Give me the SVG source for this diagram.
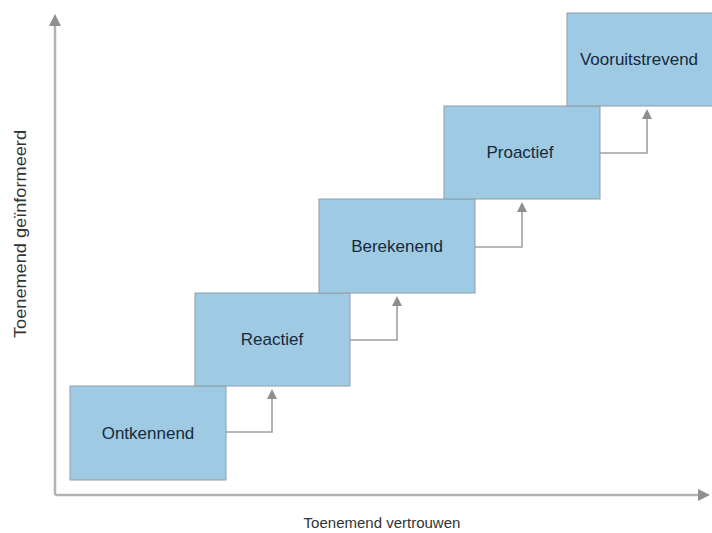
<svg xmlns="http://www.w3.org/2000/svg" width="712" height="533" viewBox="0 0 712 533">
<style>
.box{fill:#9ecae3;stroke:#8e9ea8;stroke-width:1}
.lbl{font-family:"Liberation Sans",Arial,sans-serif;font-size:17px;fill:#17293b;text-anchor:middle}
.axl{font-family:"Liberation Sans",Arial,sans-serif;font-size:15px;fill:#333;text-anchor:middle}
.axis{stroke:#b3b3b3;stroke-width:2.5;fill:none}
.conn{stroke:#a0a0a0;stroke-width:1.6;fill:none}
</style>
<defs>
<marker id="ah" markerWidth="10" markerHeight="10" refX="5" refY="5" orient="auto" markerUnits="userSpaceOnUse" viewBox="0 0 10 10">
<path d="M0,0 L10,5 L0,10 z" fill="#8f8f8f"/>
</marker>
<marker id="axh" markerWidth="12" markerHeight="12" refX="6" refY="6" orient="auto" markerUnits="userSpaceOnUse" viewBox="0 0 12 12">
<path d="M0,0 L12,6 L0,12 z" fill="#8f8f8f"/>
</marker>
</defs>
<g id="axes">
<line class="axis" x1="55" y1="495" x2="55" y2="20" marker-end="url(#axh)"/>
<line class="axis" x1="55" y1="495" x2="704" y2="495" marker-end="url(#axh)"/>
<text class="axl" x="382" y="528">Toenemend vertrouwen</text>
<text class="axl" style="font-size:16px" transform="translate(26,234) rotate(-90)" x="0" y="0" textLength="208" lengthAdjust="spacingAndGlyphs">Toenemend geïnformeerd</text>
</g>
<g id="connectors">
<polyline class="conn" points="226,432 272,432 272,394" marker-end="url(#ah)"/>
<polyline class="conn" points="350,340 397,340 397,301" marker-end="url(#ah)"/>
<polyline class="conn" points="475,247 522,247 522,207" marker-end="url(#ah)"/>
<polyline class="conn" points="600,153 647,153 647,114" marker-end="url(#ah)"/>
</g>
<g id="n1"><rect class="box" x="70" y="386" width="156" height="94"/><text class="lbl" x="148" y="439">Ontkennend</text></g>
<g id="n2"><rect class="box" x="195" y="293" width="155" height="93"/><text class="lbl" x="272" y="345">Reactief</text></g>
<g id="n3"><rect class="box" x="319" y="199" width="156" height="94"/><text class="lbl" x="397" y="252">Berekenend</text></g>
<g id="n4"><rect class="box" x="444" y="106" width="156" height="93"/><text class="lbl" x="520" y="158">Proactief</text></g>
<g id="n5"><rect class="box" x="567" y="13" width="156" height="93"/><text class="lbl" x="639" y="65">Vooruitstrevend</text></g>
</svg>
